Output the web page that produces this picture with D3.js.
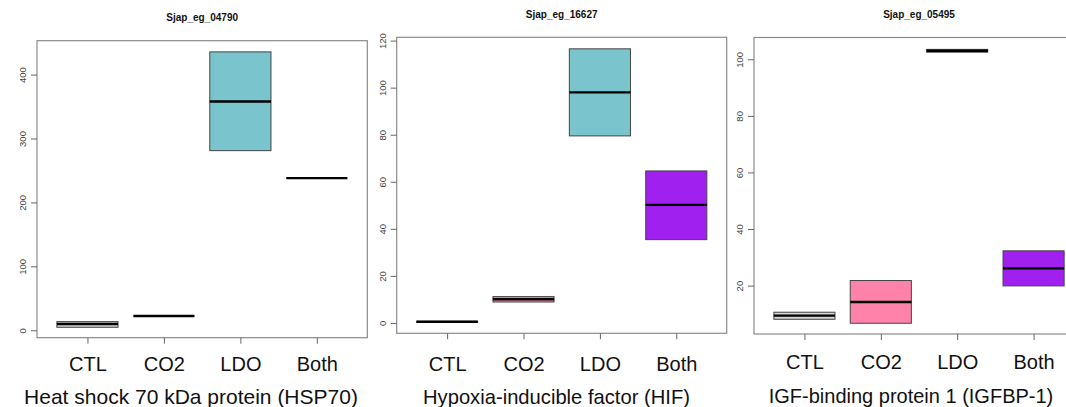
<!DOCTYPE html>
<html><head><meta charset="utf-8">
<script src="https://cdn.jsdelivr.net/npm/d3@7"></script>
<style>body{margin:0;background:#fff}svg{display:block}</style>
</head><body>
<svg id="c" width="1066" height="407"></svg>
<script>
const categories = ["CTL", "CO2", "LDO", "Both"];
const colors = ["#d3d3d3", "#ff82ab", "#7ac5cd", "#a020f0"];
const titles = ["Sjap_eg_04790", "Sjap_eg_16627", "Sjap_eg_05495"];
const xlabels = ["Heat shock 70 kDa protein (HSP70)", "Hypoxia-inducible factor (HIF)", "IGF-binding protein 1 (IGFBP-1)"];
// quartiles per category: [lower hinge, median, upper hinge]
const hsp70 = [[4.7, 9.9, 13.5], [22.3, 22.3, 22.3], [281, 358, 435.5], [238, 238, 238]];
const hif = [[0.3, 0.5, 0.7], [8.9, 10.1, 11.2], [79.5, 98, 116.5], [35.4, 50.2, 64.6]];
const igfbp = [[8.1, 9.4, 10.6], [6.7, 14.2, 21.8], [102.5, 103, 103.5], [19.9, 26.1, 32.3]];
const yTicks = [[0, 100, 200, 300, 400], [0, 20, 40, 60, 80, 100, 120], [20, 40, 60, 80, 100]];
const yDomains = [[-11.6, 453], [-4.4, 121.4], [2.9, 107.7]];

const panels = [
  {data: hsp70, left: 37, right: 367.3, top: 40.7, bottom: 337.7, titleY: 21, tickY: 371, labY: 404, labX: 191, labFs: 21},
  {data: hif, left: 396.7, right: 726.7, top: 37.3, bottom: 333.3, titleY: 18, tickY: 371, labY: 404, labX: 556.5, labFs: 20.2},
  {data: igfbp, left: 754, right: 1084, top: 37.5, bottom: 334, titleY: 18, tickY: 369, labY: 403, labX: 911, labFs: 20}
];

const svg = d3.select("#c");
panels.forEach((p, i) => {
  const x = d3.scaleLinear().domain([0.34, 4.66]).range([p.left, p.right]);
  const y = d3.scaleLinear().domain(yDomains[i]).range([p.bottom, p.top]);
  const g = svg.append("g");
  const bw = x(1.4) - x(1);

  // boxes
  p.data.forEach((q, j) => {
    const cx = x(j + 1);
    const y0 = y(q[0]), y2 = y(q[2]);
    if (Math.abs(y0 - y2) > 0.5) {
      g.append("rect").attr("x", cx - bw).attr("width", 2 * bw)
        .attr("y", y2).attr("height", y0 - y2)
        .attr("fill", colors[j]).attr("stroke", "#444").attr("stroke-width", 1);
    }
    g.append("line").attr("x1", cx - bw).attr("x2", cx + bw)
      .attr("y1", y(q[1])).attr("y2", y(q[1]))
      .attr("stroke", "#000").attr("stroke-width", 2.4);
  });

  // frame
  g.append("rect").attr("x", p.left).attr("y", p.top)
    .attr("width", p.right - p.left).attr("height", p.bottom - p.top)
    .attr("fill", "none").attr("stroke", "#8a8a8a").attr("stroke-width", 1.2);

  // y axis
  const ya = g.append("g").attr("transform", `translate(${p.left},0)`)
    .call(d3.axisLeft(y).tickValues(yTicks[i]).tickSize(6).tickFormat(d3.format("d")));
  ya.select(".domain").remove();
  ya.selectAll(".tick line").attr("stroke", "#666");
  ya.selectAll(".tick text").remove();
  ya.selectAll(".tick").append("text")
    .attr("transform", "translate(-14,0) rotate(-90)")
    .attr("text-anchor", "middle").attr("dy", "0.35em")
    .attr("fill", "#444").attr("font-family", "Liberation Sans, Arial, sans-serif")
    .attr("font-size", 9.5).text(d => d);

  // x axis
  const xa = g.append("g").attr("transform", `translate(0,${p.bottom})`)
    .call(d3.axisBottom(x).tickValues([1, 2, 3, 4]).tickSize(6).tickFormat(d => categories[d - 1]));
  xa.select(".domain").remove();
  xa.selectAll(".tick line").attr("stroke", "#666");
  xa.selectAll(".tick text").remove();
  xa.selectAll(".tick").append("text")
    .attr("y", p.tickY - p.bottom).attr("text-anchor", "middle")
    .attr("fill", "#111").attr("font-family", "Liberation Sans, Arial, sans-serif")
    .attr("font-size", 20).text(d => categories[d - 1]);

  // titles
  const cx = (p.left + p.right) / 2;
  g.append("text").attr("x", cx).attr("y", p.titleY).attr("text-anchor", "middle")
    .attr("font-family", "Liberation Sans, Arial, sans-serif").attr("font-weight", "bold")
    .attr("font-size", 10).attr("fill", "#111").text(titles[i]);
  g.append("text").attr("x", p.labX).attr("y", p.labY).attr("text-anchor", "middle")
    .attr("font-family", "Liberation Sans, Arial, sans-serif")
    .attr("font-size", p.labFs).attr("fill", "#111").text(xlabels[i]);
});
</script>
</body></html>
